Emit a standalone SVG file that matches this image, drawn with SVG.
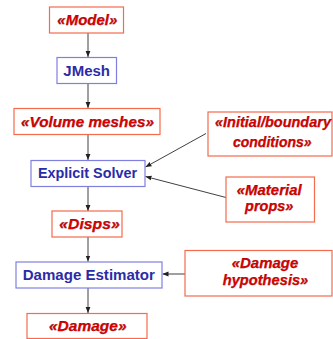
<svg xmlns="http://www.w3.org/2000/svg" width="333" height="339" viewBox="0 0 333 339">
<style>
.rb{fill:#fff;stroke:#f66a4e;stroke-width:1.2}
.bb{fill:#fff;stroke:#7f7fe0;stroke-width:1.2}
.rt{font-family:"Liberation Sans",Arial,sans-serif;font-weight:bold;font-style:italic;font-size:14px;fill:#e00000;stroke:#700000;stroke-width:0.25;text-anchor:middle}
.bt{font-family:"Liberation Sans",Arial,sans-serif;font-weight:bold;font-size:14px;fill:#2b2ba8;text-anchor:middle}
.cn{stroke:#404040;stroke-width:1;fill:none;marker-end:url(#ah)}
</style>
<defs>
<marker id="ah" viewBox="0 0 6 6" refX="6" refY="3" markerWidth="6" markerHeight="6" markerUnits="userSpaceOnUse" orient="auto">
<path d="M0,0.6 L6,3 L0,5.4 Z" fill="#202020"/>
</marker>
</defs>
<g id="connectors">
<line class="cn" x1="88" y1="33" x2="88" y2="57"/>
<line class="cn" x1="88" y1="83.5" x2="88" y2="108"/>
<line class="cn" x1="88" y1="134.5" x2="88" y2="160"/>
<line class="cn" x1="88" y1="186.5" x2="88" y2="211"/>
<line class="cn" x1="88" y1="237" x2="88" y2="261.5"/>
<line class="cn" x1="88" y1="288" x2="88" y2="313"/>
<line class="cn" x1="206" y1="133.5" x2="145.5" y2="167"/>
<line class="cn" x1="226" y1="197.5" x2="145.5" y2="176.5"/>
<line class="cn" x1="185" y1="274" x2="162.5" y2="274"/>
</g>
<g id="model"><rect class="rb" x="49.5" y="7" width="74" height="26"/><text class="rt" x="87.3" y="24.5" textLength="60" lengthAdjust="spacingAndGlyphs">«Model»</text></g>
<g id="jmesh"><rect class="bb" x="57" y="57.5" width="59.5" height="26"/><text class="bt" x="86.7" y="75.5" textLength="46.7" lengthAdjust="spacingAndGlyphs">JMesh</text></g>
<g id="volume-meshes"><rect class="rb" x="14" y="108.5" width="146" height="26"/><text class="rt" x="87.5" y="126.5" textLength="133" lengthAdjust="spacingAndGlyphs">«Volume meshes»</text></g>
<g id="explicit-solver"><rect class="bb" x="31" y="160.5" width="114" height="26"/><text class="bt" x="87.5" y="178.3" textLength="99" lengthAdjust="spacingAndGlyphs">Explicit Solver</text></g>
<g id="disps"><rect class="rb" x="52" y="211" width="70" height="26"/><text class="rt" x="89.5" y="229" textLength="60.5" lengthAdjust="spacingAndGlyphs">«Disps»</text></g>
<g id="damage-estimator"><rect class="bb" x="16" y="262" width="146" height="26"/><text class="bt" x="88.8" y="279.5" textLength="132.3" lengthAdjust="spacingAndGlyphs">Damage Estimator</text></g>
<g id="damage"><rect class="rb" x="27" y="313.5" width="120" height="25"/><text class="rt" x="87.8" y="330.5" textLength="77.7" lengthAdjust="spacingAndGlyphs">«Damage»</text></g>
<g id="initial-boundary"><rect class="rb" x="208" y="112" width="124" height="44"/><text class="rt" x="273" y="126.7" textLength="116" lengthAdjust="spacingAndGlyphs">«Initial/boundary</text><text class="rt" x="272.3" y="146.7" textLength="78.7" lengthAdjust="spacingAndGlyphs">conditions»</text></g>
<g id="material-props"><rect class="rb" x="226" y="177" width="88.5" height="45"/><text class="rt" x="269.2" y="195" textLength="65" lengthAdjust="spacingAndGlyphs">«Material</text><text class="rt" x="269.2" y="211" textLength="48.3" lengthAdjust="spacingAndGlyphs">props»</text></g>
<g id="damage-hypothesis"><rect class="rb" x="185" y="250.5" width="147" height="45.5"/><text class="rt" x="265" y="268" textLength="66.7" lengthAdjust="spacingAndGlyphs">«Damage</text><text class="rt" x="265.5" y="285" textLength="85.6" lengthAdjust="spacingAndGlyphs">hypothesis»</text></g>
</svg>
